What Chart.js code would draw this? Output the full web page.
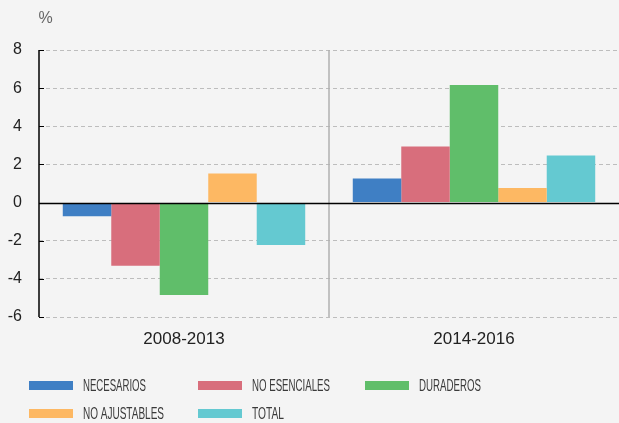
<!DOCTYPE html>
<html>
<head>
<meta charset="utf-8">
<script src="https://cdn.jsdelivr.net/npm/chart.js@4.4.1/dist/chart.umd.min.js"></script>
<style>
  html, body { margin: 0; padding: 0; background: #f4f4f4; }
  #wrap { position: relative; width: 619px; height: 423px; overflow: hidden; }
</style>
</head>
<body>
<div id="wrap"><canvas id="c" width="619" height="423"></canvas></div>
<script>
const categories = ["2008-2013", "2014-2016"];
const seriesNames = ["NECESARIOS", "NO ESENCIALES", "DURADEROS", "NO AJUSTABLES", "TOTAL"];
const necesarios = [-0.72, 1.26];
const noEsenciales = [-3.31, 2.94];
const duraderos = [-4.85, 6.17];
const noAjustables = [1.52, 0.77];
const total = [-2.22, 2.47];
const yTicks = [-6, -4, -2, 0, 2, 4, 6, 8];
const unitLabel = "%";

const colors = ["#3f7fc4", "#d86e7c", "#60be6a", "#fdb863", "#64c9d1"];
const seriesValues = [necesarios, noEsenciales, duraderos, noAjustables, total];

const datasets = seriesNames.map((n, i) => ({
  label: n,
  data: seriesValues[i],
  backgroundColor: colors[i],
  borderWidth: 0,
  categoryPercentage: 0.836,
  barPercentage: 1.0
}));

const decor = {
  id: 'decor',
  beforeDatasetsDraw(chart) {
    const ctx = chart.ctx, ca = chart.chartArea, x = chart.scales.x;
    const mid = (x.getPixelForValue(0) + x.getPixelForValue(1)) / 2;
    ctx.save();
    ctx.strokeStyle = '#b0b0b0';
    ctx.lineWidth = 1.5;
    ctx.beginPath();
    ctx.moveTo(mid, ca.top);
    ctx.lineTo(mid, ca.bottom);
    ctx.stroke();
    ctx.restore();
  },
  afterDatasetsDraw(chart) {
    const ctx = chart.ctx, ca = chart.chartArea, y = chart.scales.y;
    ctx.save();
    ctx.strokeStyle = '#000';
    ctx.lineWidth = 1.5;
    ctx.beginPath();
    ctx.moveTo(ca.left, ca.top);
    ctx.lineTo(ca.left, ca.bottom);
    ctx.stroke();
    const y0 = Math.round(y.getPixelForValue(0)) + 0.5;
    ctx.beginPath();
    ctx.moveTo(ca.left, y0);
    ctx.lineTo(ca.right, y0);
    ctx.stroke();
    ctx.lineWidth = 1;
    yTicks.forEach(v => {
      const py = Math.round(y.getPixelForValue(v)) + 0.5;
      ctx.beginPath();
      ctx.moveTo(ca.left, py);
      ctx.lineTo(ca.left + 5, py);
      ctx.stroke();
    });
    ctx.restore();
  },
  afterDraw(chart) {
    const ctx = chart.ctx;
    ctx.save();
    ctx.fillStyle = '#666';
    ctx.font = '16px "Liberation Sans", Arial, sans-serif';
    ctx.textAlign = 'center';
    ctx.textBaseline = 'middle';
    ctx.fillText(unitLabel, 45.5, 19);
    const colX = [29, 198, 365];
    const rowY = [385.5, 413.5];
    const widths = [63, 78, 62, 81, 32];
    ctx.textAlign = 'left';
    chart.data.datasets.forEach((ds, i) => {
      const col = i % 3, row = Math.floor(i / 3);
      const bx = colX[col], by = rowY[row];
      ctx.fillStyle = ds.backgroundColor;
      ctx.fillRect(bx, by - 4.5, 44, 9);
      ctx.fillStyle = '#3a3a3a';
      ctx.font = '17px "Liberation Sans Narrow", "Liberation Sans", Arial, sans-serif';
      ctx.fillText(ds.label, bx + 54, by + 1, widths[i]);
    });
    ctx.restore();
  }
};

new Chart(document.getElementById('c'), {
  type: 'bar',
  data: { labels: categories, datasets },
  options: {
    responsive: false,
    animation: false,
    events: [],
    layout: { padding: { top: 50, right: -3, bottom: 66, left: 0 } },
    plugins: { legend: { display: false }, tooltip: { enabled: false } },
    scales: {
      x: {
        grid: { display: false, drawTicks: false },
        border: { display: false },
        ticks: { color: '#222', font: { family: '"Liberation Sans", Arial, sans-serif', size: 17 }, padding: 12 },
        afterFit(s) { s.height = 40; }
      },
      y: {
        min: -6, max: 8,
        afterBuildTicks(s) { s.ticks = yTicks.map(v => ({ value: v })); },
        grid: {
          color: ctx => ctx.tick && ctx.tick.value === 0 ? 'rgba(0,0,0,0)' : '#bdbdbd',
          drawTicks: false,
          lineWidth: 1
        },
        border: { display: false, dash: [4, 3] },
        ticks: { color: '#222', font: { family: '"Liberation Sans", Arial, sans-serif', size: 16 }, padding: 17 },
        afterFit(s) { s.width = 39; }
      }
    }
  },
  plugins: [decor]
});
</script>
</body>
</html>
